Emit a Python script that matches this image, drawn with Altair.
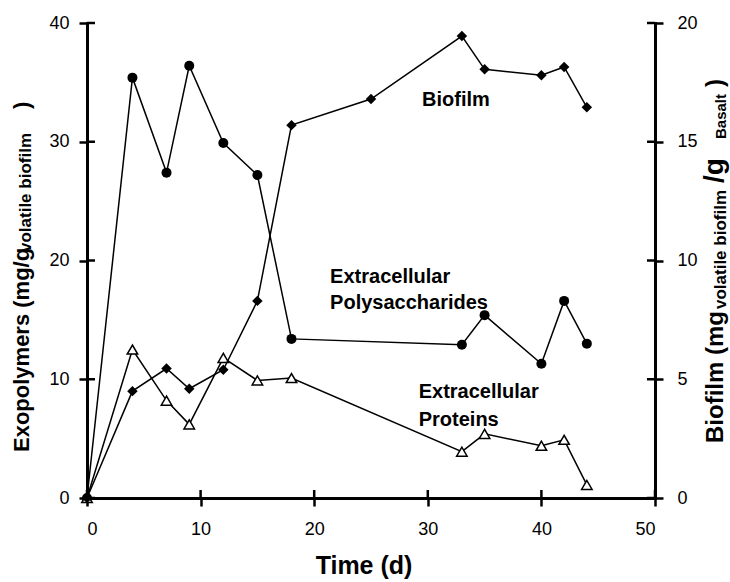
import altair as alt
import pandas as pd

# ---- data ----
time_poly = [0, 4, 7, 9, 12, 15, 18, 33, 35, 40, 42, 44]
polysaccharides = [0, 35.4, 27.4, 36.4, 29.9, 27.2, 13.4, 12.9, 15.4, 11.3, 16.6, 13.0]

time_prot = [0, 4, 7, 9, 12, 15, 18, 33, 35, 40, 42, 44]
proteins = [0, 12.5, 8.2, 6.2, 11.8, 9.9, 10.1, 3.9, 5.4, 4.4, 4.9, 1.1]

time_bio = [0, 4, 7, 9, 12, 15, 18, 25, 33, 35, 40, 42, 44]
biofilm = [0, 4.5, 5.45, 4.6, 5.4, 8.3, 15.7, 16.8, 19.45, 18.05, 17.8, 18.15, 16.45]

x_ticks = [0, 10, 20, 30, 40, 50]
left_ticks = [0, 10, 20, 30, 40]
right_ticks = [0, 5, 10, 15, 20]

label_text = ["Biofilm", "Extracellular", "Polysaccharides", "Extracellular", "Proteins"]
label_t = [29.5, 21.4, 21.4, 29.2, 29.2]
label_v = [33.5, 18.6, 16.4, 8.95, 6.55]

W, H = 568, 475
FONT = "Liberation Sans"

x_scale = alt.Scale(domain=[0, 50], nice=False, zero=False)
yl_scale = alt.Scale(domain=[0, 40], nice=False)
yr_scale = alt.Scale(domain=[0, 20], nice=False)

x_axis = alt.Axis(values=x_ticks, title=None, labelPadding=14)
yl_axis = alt.Axis(values=left_ticks, title=None, labelPadding=10)
yr_axis = alt.Axis(values=right_ticks, title=None, orient="right", labelPadding=14)

df_poly = pd.DataFrame({"t": time_poly, "v": polysaccharides})
df_prot = pd.DataFrame({"t": time_prot, "v": proteins})
df_bio = pd.DataFrame({"t": time_bio, "v": biofilm})
df_lab = pd.DataFrame({"t": label_t, "v": label_v, "txt": label_text})
one = pd.DataFrame({"a": [0]})

X = alt.X("t:Q", scale=x_scale, axis=x_axis)
YL = alt.Y("v:Q", scale=yl_scale, axis=yl_axis)

poly = alt.Chart(df_poly).mark_line(
    color="black", strokeWidth=1.5,
    point=alt.OverlayMarkDef(shape="circle", size=100, filled=True, color="black"),
).encode(x=X, y=YL)

prot = alt.Chart(df_prot).mark_line(
    color="black", strokeWidth=1.5,
    point=alt.OverlayMarkDef(shape="triangle-up", size=110, filled=True,
                             fill="white", stroke="black", strokeWidth=1.5),
).encode(x=X, y=YL)

labels = alt.Chart(df_lab).mark_text(
    font=FONT, fontSize=20, fontWeight="bold", align="left", baseline="middle", color="black"
).encode(x=X, y=YL, text="txt:N")

# inner halves of the crossing ticks
lt = pd.DataFrame({"v": left_ticks})
xt = pd.DataFrame({"t": x_ticks})
left_inner = alt.Chart(lt).mark_rule(color="black", strokeWidth=2.5).encode(
    y=YL, x=alt.value(0), x2=alt.value(8))
right_inner = alt.Chart(lt).mark_rule(color="black", strokeWidth=2.5).encode(
    y=YL, x=alt.value(W - 8), x2=alt.value(W))
x_inner = alt.Chart(xt).mark_rule(color="black", strokeWidth=2.5).encode(
    x=X, y=alt.value(H), y2=alt.value(H - 8))


def txt(s, size, x, y, bold=True):
    return alt.Chart(one).mark_text(
        font=FONT, fontSize=size, fontWeight="bold" if bold else "normal",
        angle=270, align="left", baseline="alphabetic", color="black",
    ).encode(x=alt.value(x), y=alt.value(y), text=alt.value(s))


left_title = [
    txt("Exopolymers (mg/g", 22, -58, 429),
    txt("volatile biofilm", 17, -56, 229),
    txt(")", 22, -58, 86),
]
right_title = [
    txt("Biofilm (mg", 24, 636, 420),
    txt("volatile biofilm", 17, 639, 286),
    txt("/g", 28, 636, 160),
    txt("Basalt", 15, 639, 116),
    txt(")", 24, 636, 64),
]
x_title = alt.Chart(one).mark_text(
    font=FONT, fontSize=25, fontWeight="bold", align="center", baseline="middle", color="black"
).encode(x=alt.value(277), y=alt.value(543), text=alt.value("Time (d)"))

left_group = alt.layer(
    x_inner, left_inner, right_inner, poly, prot, labels, x_title, *left_title, *right_title
)

bio = alt.Chart(df_bio).mark_line(
    color="black", strokeWidth=1.5,
    point=alt.OverlayMarkDef(shape="diamond", size=110, filled=True, color="black"),
).encode(x=X, y=alt.Y("v:Q", scale=yr_scale, axis=yr_axis))

chart = alt.layer(left_group, bio).resolve_scale(y="independent").properties(
    width=W, height=H,
    autosize=alt.AutoSizeParams(type="none"),
    padding={"left": 87, "top": 23, "right": 75, "bottom": 84},
    background="white",
).configure_view(stroke=None).configure_axis(
    domainColor="black", domainWidth=3, tickColor="black", tickWidth=2.5, tickSize=8,
    labelFont=FONT, labelFontSize=18, labelColor="black", grid=False,
    domainCap="square",
)

chart.save("out.html", embed_options={"renderer": "svg", "actions": False})
